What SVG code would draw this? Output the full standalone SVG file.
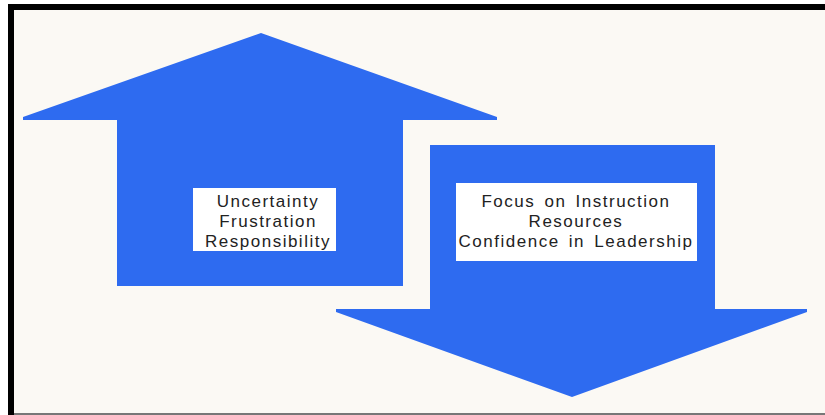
<svg xmlns="http://www.w3.org/2000/svg" width="825" height="415" viewBox="0 0 825 415">
  <style>
    .arrow { fill: #2E6BF0; }
    .label-box { fill: #FFFFFF; }
    .label { font-family: "Liberation Sans", Arial, sans-serif; font-size: 17px; letter-spacing: 1.5px; word-spacing: 3px; fill: #222222; text-anchor: middle; }
  </style>
  <!-- page background and frame -->
  <rect x="0" y="0" width="825" height="415" fill="#FFFFFF"/>
  <rect x="14" y="10" width="811" height="404" fill="#FBF9F4"/>
  <rect x="8" y="4" width="817" height="6" fill="#000000"/>
  <rect x="8" y="4" width="6" height="411" fill="#000000"/>
  <rect x="14" y="413" width="811" height="2" fill="#777777"/>

  <g id="connectors"></g>

  <!-- upward arrow -->
  <g id="up-arrow">
    <polygon class="arrow" points="261,33 497,117 497,120 403,120 403,286 117,286 117,120 23,120 23,117"/>
    <rect class="label-box" x="193" y="188" width="143" height="63"/>
    <text class="label" x="268" y="207">Uncertainty</text>
    <text class="label" x="268" y="227">Frustration</text>
    <text class="label" x="268" y="247">Responsibility</text>
  </g>

  <!-- downward arrow -->
  <g id="down-arrow">
    <polygon class="arrow" points="430,145 715,145 715,309 807,309 807,312 572,397 336,312 336,309 430,309"/>
    <rect class="label-box" x="456" y="183" width="241" height="78"/>
    <text class="label" x="576" y="207">Focus on Instruction</text>
    <text class="label" x="576" y="227">Resources</text>
    <text class="label" x="576" y="247">Confidence in Leadership</text>
  </g>
</svg>
